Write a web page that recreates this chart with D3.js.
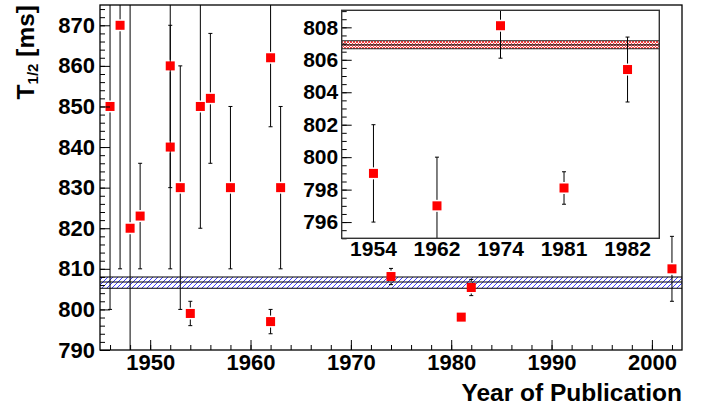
<!DOCTYPE html>
<html>
<head>
<meta charset="utf-8">
<script src="https://cdn.jsdelivr.net/npm/d3@7.9.0/dist/d3.min.js"></script>
<style>
  html, body { margin: 0; padding: 0; background: #fff; }
  svg { display: block; }
  text { font-family: "Liberation Sans", Arial, Helvetica, sans-serif; font-weight: bold; fill: #000; }
</style>
</head>
<body>
<svg id="chart" width="712" height="409"></svg>
<script>
/* --- Main plot data: half-life measurements per year of publication --- */
const years     = [1946, 1947, 1948, 1949, 1952, 1952, 1953, 1954, 1955, 1956, 1958, 1962, 1962, 1963, 1974, 1981, 1982, 2002];
const halfLives = [850, 870, 820, 823, 860, 840, 830, 799, 850, 852, 830, 862, 797, 830, 808.1, 798.1, 805.4, 810];
const errors    = [50, 60, 60, 13, 30, 30, 30, 3, 30, 16, 20, 17, 3, 20, 2.0, 1.0, 2.0, 8];

/* --- Inset data: selected measurements --- */
const insetYears  = ['1954', '1962', '1974', '1981', '1982'];
const insetValues = [799.0, 797.0, 808.1, 798.1, 805.4];
const insetErrors = [3, 3, 2.0, 1.0, 2.0];

/* --- Averages shown as bands: [low, mean, high] --- */
const mainBand  = [805.2, 806.75, 808.0];
const insetBand = [806.68, 806.92, 807.17];

/* --- Axis ranges and ticks --- */
const xDomain = [1945, 2003];
const yDomain = [790, 875];
const insetYDomain = [795, 809.05];
const xMajor = [1950, 1960, 1970, 1980, 1990, 2000];
const yMajor = [790, 800, 810, 820, 830, 840, 850, 860, 870];
const insetYMajor = [796, 798, 800, 802, 804, 806, 808];


const svg = d3.select('#chart');
const frame = { left: 100, right: 682, top: 5, bottom: 350 };
const inset = { left: 341.7, right: 659.3, top: 10.3, bottom: 238.3 };

const x = d3.scaleLinear(xDomain, [frame.left, frame.right]);
const y = d3.scaleLinear(yDomain, [frame.bottom, frame.top]);
const xi = d3.scaleBand(insetYears, [inset.left, inset.right]);
const yi = d3.scaleLinear(insetYDomain, [inset.bottom, inset.top]);

const defs = svg.append('defs');

// blue "///" hatch for main band
const blue = defs.append('pattern')
  .attr('id', 'hatchBlue').attr('patternUnits', 'userSpaceOnUse')
  .attr('width', 5).attr('height', 5);
blue.append('path')
  .attr('d', 'M-1,1 l2,-2 M0,5 l5,-5 M4,6 l2,-2')
  .attr('stroke', '#3c3cff').attr('stroke-width', 1);

// red cross hatch for inset band
const red = defs.append('pattern')
  .attr('id', 'hatchRed').attr('patternUnits', 'userSpaceOnUse')
  .attr('width', 3).attr('height', 3);
red.append('path')
  .attr('d', 'M0,3 L3,0 M0,0 L3,3')
  .attr('stroke', '#ff3030').attr('stroke-width', 0.9);

defs.append('clipPath').attr('id', 'clipMain')
  .append('rect')
  .attr('x', frame.left).attr('y', frame.top)
  .attr('width', frame.right - frame.left).attr('height', frame.bottom - frame.top);

defs.append('clipPath').attr('id', 'clipInset')
  .append('rect')
  .attr('x', inset.left).attr('y', inset.top)
  .attr('width', inset.right - inset.left).attr('height', inset.bottom - inset.top);


/* --- Helpers --- */
function drawBand(g, band, yScale, x0, x1, fillId, lineColor) {
  g.append('rect')
    .attr('x', x0).attr('width', x1 - x0)
    .attr('y', yScale(band[2])).attr('height', yScale(band[0]) - yScale(band[2]))
    .attr('fill', `url(#${fillId})`);
  g.selectAll(null)
    .data(band)
    .enter()
    .append('line')
    .attr('x1', x0).attr('x2', x1)
    .attr('y1', d => yScale(d)).attr('y2', d => yScale(d))
    .attr('stroke', lineColor).attr('stroke-width', 1.1);
}

function drawPoints(g, xs, ys, es) {
  const half = 4.5, gap = 1.5, cap = 2;
  const pts = xs.map((px, i) => ({ px, py: ys[i].py, lo: es[i].lo, hi: es[i].hi }));

  const bars = g.selectAll(null).data(pts).enter().append('g');
  // upper part of the bar
  bars.append('line')
    .attr('x1', d => d.px).attr('x2', d => d.px)
    .attr('y1', d => d.py - half - gap).attr('y2', d => Math.min(d.hi, d.py - half - gap))
    .attr('stroke', '#000').attr('stroke-width', 1);
  // lower part
  bars.append('line')
    .attr('x1', d => d.px).attr('x2', d => d.px)
    .attr('y1', d => d.py + half + gap).attr('y2', d => Math.max(d.lo, d.py + half + gap))
    .attr('stroke', '#000').attr('stroke-width', 1);
  // end caps (only when the bar sticks out of the marker)
  bars.filter(d => d.py - d.hi > half + gap).append('line')
    .attr('x1', d => d.px - cap).attr('x2', d => d.px + cap)
    .attr('y1', d => d.hi).attr('y2', d => d.hi)
    .attr('stroke', '#000').attr('stroke-width', 1);
  bars.filter(d => d.lo - d.py > half + gap).append('line')
    .attr('x1', d => d.px - cap).attr('x2', d => d.px + cap)
    .attr('y1', d => d.lo).attr('y2', d => d.lo)
    .attr('stroke', '#000').attr('stroke-width', 1);

  g.selectAll(null).data(pts).enter().append('rect')
    .attr('x', d => d.px - half).attr('y', d => d.py - half)
    .attr('width', half * 2).attr('height', half * 2)
    .attr('fill', '#ff0000');
}

function cleanAxis(g) {
  g.select('.domain').remove();
  g.selectAll('.tick line').attr('stroke', '#000').attr('stroke-width', 1);
}


/* --- MAIN PLOT --- */
const main = svg.append('g');
const mainPlot = main.append('g').attr('clip-path', 'url(#clipMain)');

drawBand(mainPlot, mainBand, y, frame.left, frame.right, 'hatchBlue', '#000');

drawPoints(
  mainPlot,
  years.map(d => x(d)),
  halfLives.map(d => ({ py: y(d) })),
  halfLives.map((d, i) => ({ lo: y(d - errors[i]), hi: y(d + errors[i]) }))
);

// y axis (ticks pointing inward)
main.append('g')
  .attr('transform', `translate(${frame.left},0)`)
  .call(d3.axisLeft(y).tickValues(d3.range(790, 876, 2)).tickSize(-5).tickFormat(''))
  .call(cleanAxis);
main.append('g')
  .attr('transform', `translate(${frame.left},0)`)
  .call(d3.axisLeft(y).tickValues(yMajor).tickSize(-10).tickPadding(5).tickFormat(d3.format('d')))
  .call(cleanAxis)
  .selectAll('text').attr('font-size', 22).attr('font-family', null);

// x axis
main.append('g')
  .attr('transform', `translate(0,${frame.bottom})`)
  .call(d3.axisBottom(x).tickValues(d3.range(1946, 2003, 2)).tickSize(-5).tickFormat(''))
  .call(cleanAxis);
main.append('g')
  .attr('transform', `translate(0,${frame.bottom})`)
  .call(d3.axisBottom(x).tickValues(xMajor).tickSize(-10).tickPadding(4.5).tickFormat(d3.format('d')))
  .call(cleanAxis)
  .selectAll('text').attr('font-size', 22).attr('font-family', null);

main.append('rect')
  .attr('x', frame.left).attr('y', frame.top)
  .attr('width', frame.right - frame.left).attr('height', frame.bottom - frame.top)
  .attr('fill', 'none').attr('stroke', '#000').attr('stroke-width', 1.3);

// axis titles
main.append('text')
  .attr('x', frame.right).attr('y', 401)
  .attr('text-anchor', 'end')
  .attr('font-size', 24.5)
  .text('Year of Publication');

const yTitle = main.append('text')
  .attr('transform', `translate(34,${frame.top}) rotate(-90)`)
  .attr('text-anchor', 'end')
  .attr('font-size', 24.5);
yTitle.append('tspan').text('T');
yTitle.append('tspan').attr('font-size', 15).attr('dy', 4).text('1/2');
yTitle.append('tspan').attr('dy', -4).text(' [ms]');


/* --- INSET --- */
const ins = svg.append('g');
ins.append('rect')
  .attr('x', inset.left).attr('y', inset.top)
  .attr('width', inset.right - inset.left).attr('height', inset.bottom - inset.top)
  .attr('fill', '#fff');

const insPlot = ins.append('g').attr('clip-path', 'url(#clipInset)');
drawBand(insPlot, insetBand, yi, inset.left, inset.right, 'hatchRed', '#222');

drawPoints(
  insPlot,
  insetYears.map(d => xi(d) + xi.bandwidth() / 2),
  insetValues.map(d => ({ py: yi(d) })),
  insetValues.map((d, i) => ({ lo: yi(d - insetErrors[i]), hi: yi(d + insetErrors[i]) }))
);

ins.append('g')
  .attr('transform', `translate(${inset.left},0)`)
  .call(d3.axisLeft(yi).tickValues(d3.range(795, 809.01, 0.5)).tickSize(-5).tickFormat(''))
  .call(cleanAxis);
ins.append('g')
  .attr('transform', `translate(${inset.left},0)`)
  .call(d3.axisLeft(yi).tickValues(insetYMajor).tickSize(-10).tickPadding(3.5).tickFormat(d3.format('d')))
  .call(cleanAxis)
  .selectAll('text').attr('font-size', 21).attr('font-family', null);

ins.append('g')
  .attr('transform', `translate(0,${inset.bottom})`)
  .call(d3.axisBottom(xi).tickSize(0).tickPadding(3))
  .call(cleanAxis)
  .selectAll('text').attr('font-size', 21).attr('font-family', null);

ins.append('rect')
  .attr('x', inset.left).attr('y', inset.top)
  .attr('width', inset.right - inset.left).attr('height', inset.bottom - inset.top)
  .attr('fill', 'none').attr('stroke', '#333').attr('stroke-width', 1.4);
</script>
</body>
</html>
